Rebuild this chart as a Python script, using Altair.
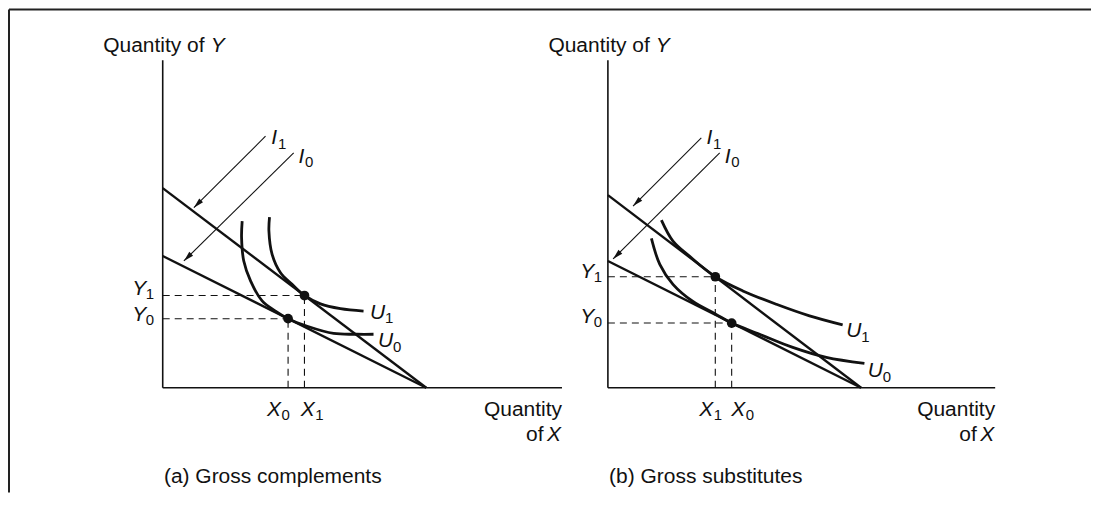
import math
import altair as alt
import pandas as pd

FONT = "Liberation Sans"
INK = "#111111"
PX = 4.0            # pixels per data unit (both axes)
Y_MAX = 82
X_MAX = {"a": 100, "b": 97}
PANEL_W = {"a": 400, "b": 388}
PANEL_H = 328

# ---------------- data ----------------
captions = {"a": "(a) Gross complements", "b": "(b) Gross substitutes"}

# budget lines I1, I0 : intercepts
budget_panel = ["a", "a", "b", "b"]
budget_name = ["I1", "I0", "I1", "I0"]
budget_yint = [50.0, 33.0, 48.25, 31.75]
budget_xint = [66.0, 66.0, 63.4, 63.4]

# optimum points (1 = after, 0 = before)
opt_panel = ["a", "a", "b", "b"]
opt_name = ["1", "0", "1", "0"]
opt_x = [35.5, 31.4, 26.9, 31.0]
opt_y = [23.1, 17.3, 27.8, 16.2]

# indifference curves
u1a_x = [26.75, 26.6, 27.4, 29.5, 32.4, 35.5, 39.5, 44.5, 50.3]
u1a_y = [42.75, 39.25, 33.4, 28.8, 25.9, 23.1, 21.0, 19.8, 19.2]
u0a_x = [19.9, 19.75, 20.3, 22.0, 24.9, 28.25, 31.4, 36.2, 42.8, 48.7, 52.8]
u0a_y = [41.75, 37.6, 31.75, 26.75, 21.75, 19.2, 17.3, 15.4, 13.6, 13.4, 13.4]
u1b_x = [13.4, 16.3, 20.5, 26.9, 33.8, 42.2, 50.5, 58.8]
u1b_y = [42.0, 36.75, 32.9, 27.8, 24.25, 20.9, 18.0, 15.75]
u0b_x = [10.9, 13.0, 16.3, 21.3, 26.9, 31.0, 38.0, 46.3, 54.7, 64.25]
u0b_y = [37.4, 30.9, 25.9, 21.6, 18.5, 16.2, 13.4, 10.1, 7.6, 6.1]

# arrows pointing to the budget lines
arrow_panel = ["a", "a", "b", "b"]
arrow_x_from = [25.75, 32.8, 23.4, 28.0]
arrow_y_from = [63.0, 58.8, 62.6, 58.8]
arrow_x_to = [7.8, 5.3, 6.3, 1.3]
arrow_y_to = [45.1, 31.75, 45.5, 32.25]

# subscripted labels: letter, subscript, anchor (left, baseline) in data units
lab_panel = ["a"] * 8 + ["b"] * 8
lab_letter = ["Y", "Y", "X", "X", "U", "U", "I", "I",
              "Y", "Y", "X", "X", "U", "U", "I", "I"]
lab_sub = ["1", "0", "0", "1", "1", "0", "1", "0",
           "1", "0", "1", "0", "1", "0", "1", "0"]
lab_x = [-7.6, -7.6, 26.1, 34.6, 51.9, 53.9, 27.2, 34.0,
         -6.9, -6.9, 22.9, 30.9, 59.7, 65.1, 24.7, 29.25]
lab_y = [23.25, 16.75, -7.0, -7.0, 17.25, 10.1, 61.0, 56.3,
         27.6, 16.3, -7.0, -7.0, 12.6, 2.6, 61.0, 56.3]

SUB_DX = {"Y": 13.5, "X": 14.5, "U": 15.0, "I": 6.6}   # px
SUB_DY = 4.5                                           # px

ARROW_PATH = "M0,0 L-0.6,2.3 L0.6,2.3 Z"


def build_panel(p):
    xsc = alt.Scale(domain=[0, X_MAX[p]], nice=False, zero=False)
    ysc = alt.Scale(domain=[0, Y_MAX], nice=False, zero=False)

    def X(f):
        return alt.X(f, type="quantitative", scale=xsc, axis=None)

    def Y(f):
        return alt.Y(f, type="quantitative", scale=ysc, axis=None)

    layers = []

    # axes
    ax = pd.DataFrame({"x": [0, 0], "y": [0, 0], "x2": [X_MAX[p], 0], "y2": [0, Y_MAX]})
    layers.append(alt.Chart(ax).mark_rule(color=INK, strokeWidth=1.6).encode(
        x=X("x"), y=Y("y"), x2=alt.X2("x2"), y2=alt.Y2("y2")))

    # budget lines
    b = pd.DataFrame({"panel": budget_panel, "name": budget_name,
                      "yint": budget_yint, "xint": budget_xint})
    b = b[b.panel == p]
    bl = pd.DataFrame({"x": 0.0, "y": b.yint.values, "x2": b.xint.values, "y2": 0.0})
    layers.append(alt.Chart(bl).mark_rule(color=INK, strokeWidth=2.4).encode(
        x=X("x"), y=Y("y"), x2=alt.X2("x2"), y2=alt.Y2("y2")))

    # optimum points and dashed guides
    o = pd.DataFrame({"panel": opt_panel, "name": opt_name, "x": opt_x, "y": opt_y})
    o = o[o.panel == p]
    rows = []
    for _, r in o.iterrows():
        rows.append({"x": 0.0, "y": r.y, "x2": r.x, "y2": r.y})
        rows.append({"x": r.x, "y": 0.0, "x2": r.x, "y2": r.y})
    dl = pd.DataFrame(rows)
    layers.append(alt.Chart(dl).mark_rule(color=INK, strokeWidth=1.1, strokeDash=[7, 5]).encode(
        x=X("x"), y=Y("y"), x2=alt.X2("x2"), y2=alt.Y2("y2")))

    # indifference curves
    if p == "a":
        cur = [("U1", u1a_x, u1a_y), ("U0", u0a_x, u0a_y)]
    else:
        cur = [("U1", u1b_x, u1b_y), ("U0", u0b_x, u0b_y)]
    crow = []
    for name, xs, ys in cur:
        for i, (cx, cy) in enumerate(zip(xs, ys)):
            crow.append({"curve": name, "i": i, "x": cx, "y": cy})
    cdf = pd.DataFrame(crow)
    layers.append(alt.Chart(cdf).mark_line(color=INK, strokeWidth=2.8,
                                           interpolate="catmull-rom").encode(
        x=X("x"), y=Y("y"), detail="curve:N", order="i:Q"))

    layers.append(alt.Chart(o).mark_circle(color=INK, size=95, opacity=1).encode(
        x=X("x"), y=Y("y")))

    # arrows
    a = pd.DataFrame({"panel": arrow_panel, "x": arrow_x_from, "y": arrow_y_from,
                      "x2": arrow_x_to, "y2": arrow_y_to})
    a = a[a.panel == p].copy()
    a["ang"] = [(math.degrees(math.atan2(r.x2 - r.x, r.y2 - r.y)) + 360) % 360
                for _, r in a.iterrows()]
    layers.append(alt.Chart(a).mark_rule(color=INK, strokeWidth=1.1).encode(
        x=X("x"), y=Y("y"), x2=alt.X2("x2"), y2=alt.Y2("y2")))
    layers.append(alt.Chart(a).mark_point(shape=ARROW_PATH, filled=True, size=80,
                                          color=INK, opacity=1, strokeWidth=0).encode(
        x=X("x2"), y=Y("y2"), angle=alt.Angle("ang:Q", scale=None)))

    # subscripted labels
    L = pd.DataFrame({"panel": lab_panel, "letter": lab_letter, "sub": lab_sub,
                      "x": lab_x, "y": lab_y})
    L = L[L.panel == p].copy()
    L["sx"] = [r.x + SUB_DX[r.letter] / PX for _, r in L.iterrows()]
    L["sy"] = L["y"] - SUB_DY / PX
    layers.append(alt.Chart(L).mark_text(font=FONT, fontSize=21, fontStyle="italic",
                                         align="left", baseline="alphabetic",
                                         color=INK).encode(
        x=X("x"), y=Y("y"), text="letter:N"))
    layers.append(alt.Chart(L).mark_text(font=FONT, fontSize=15, align="left",
                                         baseline="alphabetic", color=INK).encode(
        x=X("sx"), y=Y("sy"), text="sub:N"))

    # axis titles and caption
    xm = X_MAX[p]
    up_left = pd.DataFrame({"t": ["Quantity of", "of", captions[p]],
                            "x": [-14.9, xm - 9.0, 0.3],
                            "y": [84.0, -13.25, -23.75]})
    up_right = pd.DataFrame({"t": ["Quantity"], "x": [xm], "y": [-7.0]})
    it_left = pd.DataFrame({"t": ["Y", "X"], "x": [12.0, xm - 3.75], "y": [84.0, -13.25]})
    layers.append(alt.Chart(up_left).mark_text(font=FONT, fontSize=21, align="left",
                                               baseline="alphabetic", color=INK).encode(
        x=X("x"), y=Y("y"), text="t:N"))
    layers.append(alt.Chart(up_right).mark_text(font=FONT, fontSize=21, align="right",
                                                baseline="alphabetic", color=INK).encode(
        x=X("x"), y=Y("y"), text="t:N"))
    layers.append(alt.Chart(it_left).mark_text(font=FONT, fontSize=21, align="left",
                                               fontStyle="italic", baseline="alphabetic",
                                               color=INK).encode(
        x=X("x"), y=Y("y"), text="t:N"))

    # frame (top and left border of the figure)
    if p == "a":
        one = pd.DataFrame({"k": [0]})
        layers.append(alt.Chart(one).mark_rule(color="#222222", strokeWidth=2).encode(
            x=alt.value(-154), x2=alt.value(930), y=alt.value(-51), y2=alt.value(-51)))
        layers.append(alt.Chart(one).mark_rule(color="#222222", strokeWidth=2).encode(
            x=alt.value(-154), x2=alt.value(-154), y=alt.value(-51), y2=alt.value(433)))

    return alt.layer(*layers).properties(width=PANEL_W[p], height=PANEL_H)


chart = alt.hconcat(build_panel("a"), build_panel("b"), spacing=46, bounds="flush").properties(
    padding=0).configure_view(strokeWidth=0)

chart.save("out.html", embed_options={"renderer": "svg", "actions": False})
